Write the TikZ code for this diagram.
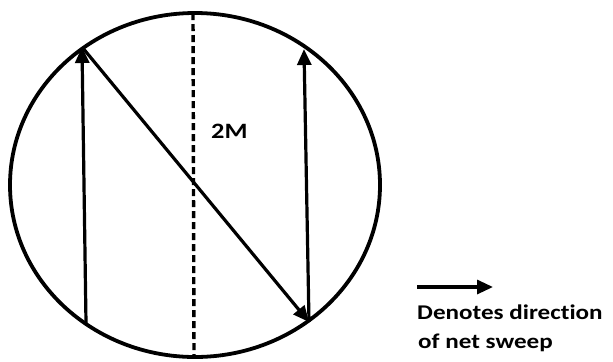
\documentclass[tikz,border=0pt]{standalone}
\usepackage{fontspec}
\setmainfont{Carlito}
\newfontfamily\widefont[FakeStretch=1.2,RawFeature=-liga]{Carlito}
\usepackage{tikz}
\usetikzlibrary{arrows.meta}

\tikzset{
  sweep/.style={line width=3.2bp,-{Triangle[length=16bp,width=14bp]}},
  waferline/.style={line width=3.8bp},
  midline/.style={line width=3.4bp,dash pattern=on 7bp off 4bp},
  lbl/.style={font=\widefont\bfseries\fontsize{21}{25}\selectfont,inner sep=0pt}
}

\begin{document}
\begin{tikzpicture}[x=1bp,y=-1bp]
\useasboundingbox (0,0) rectangle (613,361);
% wafer outline and centre line
\draw[waferline] (195,185) ellipse[x radius=185,y radius=172];
\coordinate (top) at (193,13);
\coordinate (bot) at (194,357);
\draw[midline] (top) -- (bot);
\node[lbl,font=\widefont\bfseries\fontsize{22}{26}\selectfont,anchor=base west] (twoM) at (211,138) {2M};
% sweep path
\coordinate (lb) at (86,323);
\coordinate (lt) at (82,47);
\coordinate (rb) at (309,322);
\coordinate (rt) at (304,49);
\draw[sweep] (lb) -- (lt);
\draw[sweep] (lt) -- (rb);
\draw[sweep] (rb) -- (rt);
% legend
\coordinate (ka) at (417,287);
\coordinate (kb) at (493,287);
\draw[sweep] (ka) -- (kb);
\node[lbl,anchor=base west] (key1) at (417,319) {Denotes direction};
\node[lbl,anchor=base west] (key2) at (418,348) {of net sweep};
\end{tikzpicture}
\end{document}
